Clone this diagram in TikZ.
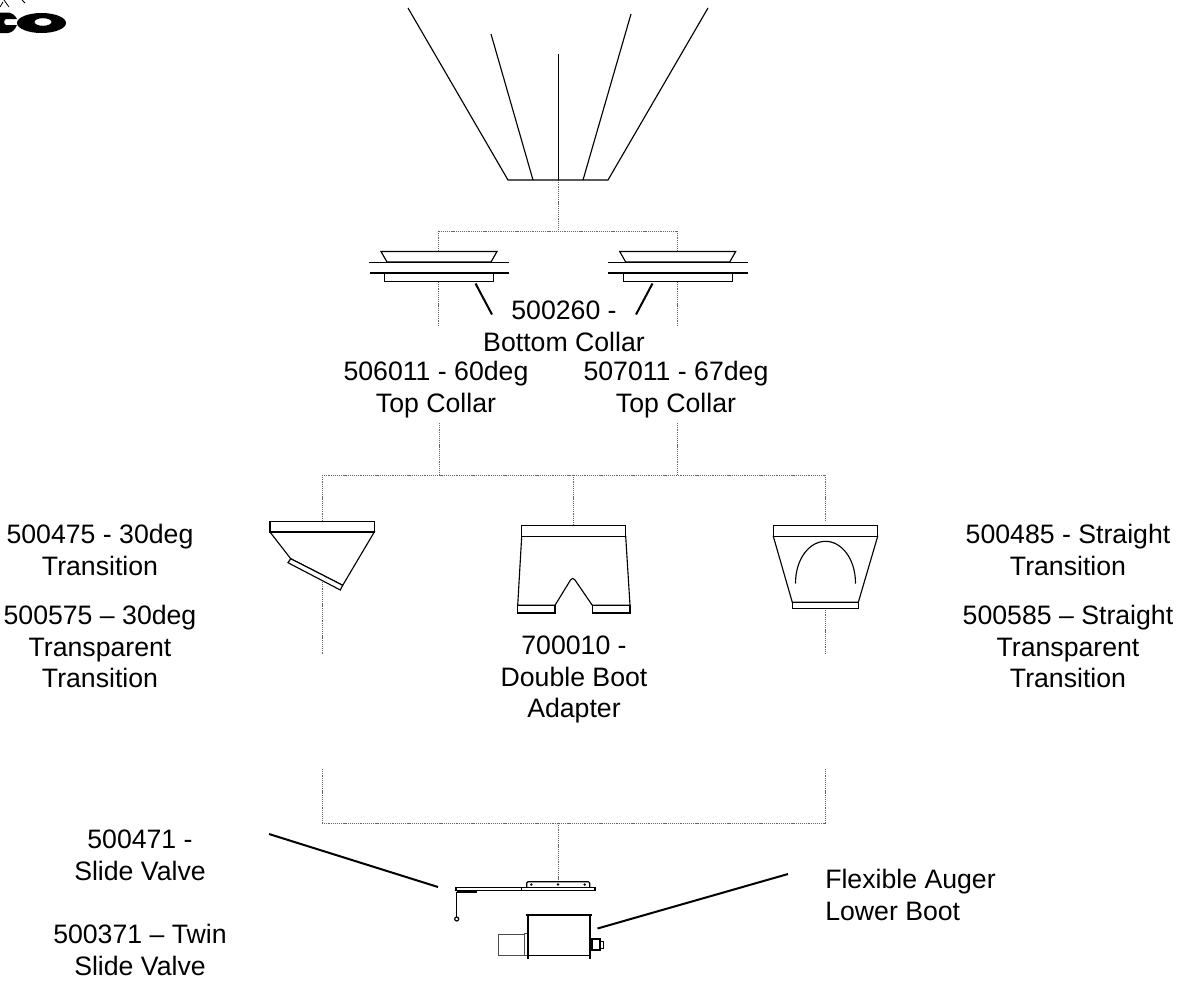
\documentclass[tikz,border=0pt]{standalone}
\usepackage{fontspec}
\setmainfont{Liberation Sans}
\tikzset{
  lbl/.style={align=center,inner sep=0pt,font=\fontsize{20}{23.8}\selectfont},
  part/.style={line width=0.85pt,fill=white},
  feed/.style={line width=0.75pt,draw=black!60,dash pattern=on 0.9pt off 0.7pt},
  leader/.style={line width=1.5pt}
}
\begin{document}
\begin{tikzpicture}[x=0.75pt,y=-0.75pt]
      \useasboundingbox (0,0) rectangle (1189,982);
      \path
        (558,180) coordinate (hopper)
        (558,231) coordinate (split)
        (438.5,231) coordinate (splitl)
        (677,231) coordinate (splitr)
        (438.5,251) coordinate (colltopl)
        (677,251) coordinate (colltopr)
        (438.5,282) coordinate (collbotl)
        (677,282) coordinate (collbotr)
        (438.5,325) coordinate (collendl)
        (677,325) coordinate (collendr)
        (439,423) coordinate (resumel)
        (677,423) coordinate (resumer)
        (439,475) coordinate (busl)
        (677,475) coordinate (busr)
        (322,475) coordinate (bus30)
        (573,475) coordinate (busdbl)
        (825.5,475) coordinate (busstr)
        (322,521) coordinate (top30)
        (573,525) coordinate (topdbl)
        (825.5,520) coordinate (topstr)
        (322,582) coordinate (bot30)
        (825.5,608) coordinate (botstr)
        (322,654) coordinate (end30)
        (825.5,654) coordinate (endstr)
        (322,769) coordinate (low30)
        (825.5,769) coordinate (lowstr)
        (322,823) coordinate (lowbus30)
        (825.5,823) coordinate (lowbusstr)
        (558,823) coordinate (lowmid)
        (558,882) coordinate (valve)
        (475.5,283.5) coordinate (leadaa)
        (492,314.5) coordinate (leadab)
        (652.5,283.5) coordinate (leadba)
        (636,314.5) coordinate (leadbb)
        (269,834) coordinate (leadca)
        (438,887) coordinate (leadcb)
        (788,874) coordinate (leadda)
        (597.5,928.5) coordinate (leaddb);
      % feed lines
      \begin{scope}[feed]
        \draw (hopper) to (split);
        \draw (splitl) to (splitr);
        \draw (splitl) to (colltopl);
        \draw (splitr) to (colltopr);
        \draw (collbotl) to (collendl);
        \draw (collbotr) to (collendr);
        \draw (resumel) to (busl);
        \draw (resumer) to (busr);
        \draw (bus30) to (busstr);
        \draw (bus30) to (top30);
        \draw (busdbl) to (topdbl);
        \draw (busstr) to (topstr);
        \draw (bot30) to (end30);
        \draw (botstr) to (endstr);
        \draw (low30) to (lowbus30);
        \draw (lowstr) to (lowbusstr);
        \draw (lowbus30) to (lowbusstr);
        \draw (lowmid) to (valve);
      \end{scope}
      % hopper
      \begin{scope}[line width=0.85pt]
        \draw (408,8) -- (508,180) -- (608,180) -- (708,8);
        \draw (491,34) -- (533,180);
        \draw (558.3,54) -- (558.3,180);
        \draw (631,14) -- (583,180);
      \end{scope}
      % collars
      \foreach \dx in {0,238.7} {
        \begin{scope}[xshift=\dx*0.75pt]
          \draw[part] (381,251.5) -- (497,251.5) -- (491,262) -- (387,262) -- cycle;
          \draw[part] (384.5,272.5) rectangle (493.5,281.5);
          \draw[line width=1.4pt] (369,262.5) -- (509,262.5);
          \draw[line width=1.4pt] (369.5,272.7) -- (509,272.7);
        \end{scope}
      }
      % 30deg transition
      \draw[part] (270,532) -- (290.7,558.7) -- (342.7,585.3) -- (374.3,532) -- cycle;
      \draw[part] (270,521.3) rectangle (374.3,532);
      \draw[part] (290.7,558.7) -- (342.7,585.3) -- (340.3,590) -- (288,562.7) -- cycle;
      % double boot
      \draw[part] (521.7,536.3) -- (517.7,605.3) -- (555,605.3) -- (570.5,580) .. controls (572,577.8) and (573.5,577.8) .. (575,580) -- (592.3,605.3) -- (630,605.3) -- (625.7,536.3) -- cycle;
      \draw[part] (521.7,525.7) rectangle (625.7,536.3);
      \draw[part] (517.7,605.3) rectangle (555,613);
      \draw[part] (592.3,605.3) rectangle (630,613);
      % straight transition
      \draw[part] (773.3,536.3) -- (792.3,602.3) -- (858.3,602.3) -- (877.7,536.3) -- cycle;
      \draw[part] (773.3,525.7) rectangle (877.7,536.3);
      \draw[part] (792.3,602.3) rectangle (858.3,608.3);
      \draw[line width=0.85pt] (795.5,583.5) .. controls (795.5,558) and (810,541.3) .. (825.5,541.3) .. controls (841,541.3) and (855.5,558) .. (855.5,583.5);
      % slide valve
      \draw[part,rounded corners=1pt] (526.7,887.3) -- (526.7,881.7) -- (589.7,881.7) -- (589.7,887.3);
      \draw[part] (456,887.3) rectangle (595,890.5);
      \draw[line width=0.85pt] (521.3,887.3) -- (521.3,890.5);
      \fill (531.3,884.5) circle (1.3) (558,884.5) circle (1.3) (584.7,884.5) circle (1.3);
      \draw[line width=1.3pt] (457,891.7) -- (476.7,891.7);
      \draw[line width=1pt] (456.7,891.7) -- (456.7,917);
      \draw[line width=0.9pt] (456.7,919) circle (2);
      % lower boot
      \draw[line width=0.7pt,draw=black!70] (498.7,934.3) rectangle (524.3,955);
      \draw[line width=0.7pt,draw=black!70] (524.3,933.3) rectangle (527.7,955.5);
      \draw[line width=0.85pt] (527.7,955.2) -- (590,955.2);
      \draw[line width=1.5pt] (525.7,915) -- (592.3,915);
      \draw[line width=1.5pt] (527.7,915) -- (527.7,958.5);
      \draw[line width=1.5pt] (590,915) -- (590,958.5);
      \draw[line width=1.2pt] (592,938.7) rectangle (600,950);
      \draw[line width=0.7pt] (600,941.3) rectangle (603,948);
      % logo scrap
      \fill (0,12.5) -- (9,12.5) .. controls (12,13) and (15,15) .. (17,19) -- (6,19) .. controls (3.5,20.5) and (3.5,23.5) .. (6,25) -- (17,25) .. controls (15,30) and (12,32.5) .. (8,33) -- (0,33) -- cycle;
      \fill[even odd rule] (41.5,23) ellipse (24.5 and 10) (43,22) ellipse (8.5 and 3.8);
      \draw[line width=0.6pt] (0,7) -- (3,2) (4,0) -- (9,7) (22,0) -- (25,3);
      % leaders
      \begin{scope}[leader]
        \draw (leadaa) to (leadab);
        \draw (leadba) to (leadbb);
        \draw (leadca) to (leadcb);
        \draw (leadda) to (leaddb);
      \end{scope}
      \draw
        (564,326.5) node (bottomcoll) [lbl] {500260 -\\Bottom Collar}
        (436,389.5) node (topcoll60) [lbl] {506011 - 60deg\\Top Collar}
        (676,389.5) node (topcoll67) [lbl] {507011 - 67deg\\Top Collar}
        (100,550) node (trans30) [lbl] {500475 - 30deg\\Transition}
        (100,646.5) node (clear30) [lbl] {500575 – 30deg\\Transparent\\Transition}
        (1068,550) node (transstr) [lbl] {500485 - Straight\\Transition}
        (1068,646.5) node (clearstr) [lbl] {500585 – Straight\\Transparent\\Transition}
        (574,679.5) node (dblboot) [lbl] {700010 -\\Double Boot\\Adapter}
        (140,855) node (slide) [lbl] {500471 -\\Slide Valve}
        (140,950) node (twinslide) [lbl] {500371 – Twin\\Slide Valve}
        (825,895) node (auger) [lbl,anchor=west,align=left] {Flexible Auger\\Lower Boot};
    \end{tikzpicture}
\end{document}
